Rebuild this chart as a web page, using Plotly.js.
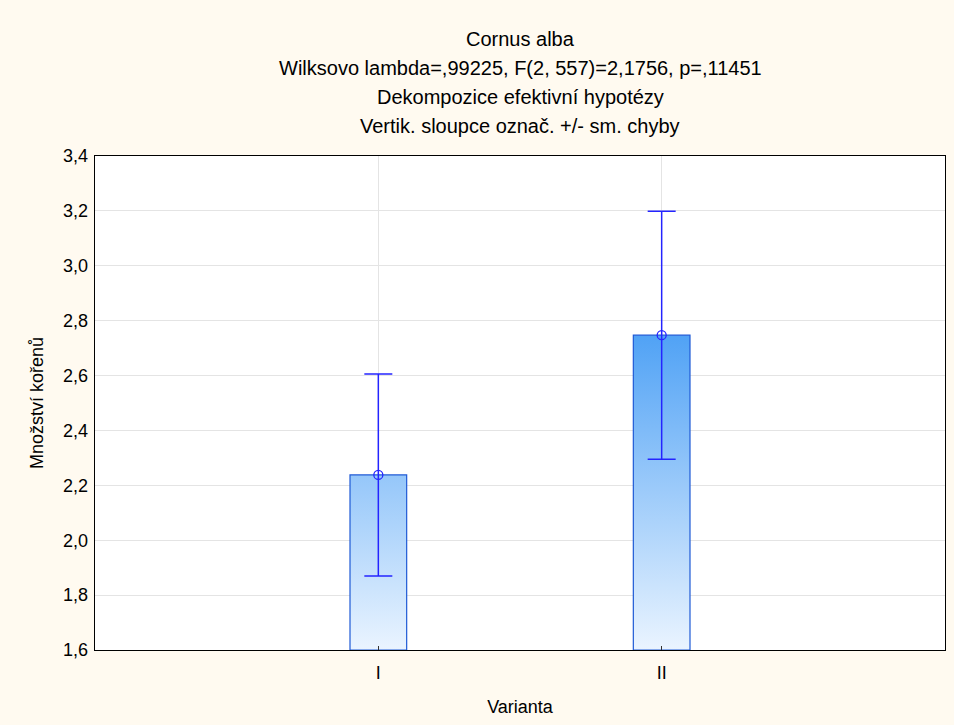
<!DOCTYPE html>
<html>
<head>
<meta charset="utf-8">
<script src="https://cdn.plot.ly/plotly-3.0.1.min.js"></script>
<style>html,body{margin:0;padding:0;background:#FFFAF0;}</style>
</head>
<body>
<div id="chart" style="width:954px;height:725px;"></div>
<script>
// Data
const categories = ['I', 'II'];
const means = [2.238, 2.747];
const stdErrors = [0.368, 0.452];
const titleLines = [
  'Cornus alba',
  'Wilksovo lambda=,99225, F(2, 557)=2,1756, p=,11451',
  'Dekompozice efektivní hypotézy',
  'Vertik. sloupce označ. +/- sm. chyby'
];
const yTickVals = [1.6, 1.8, 2.0, 2.2, 2.4, 2.6, 2.8, 3.0, 3.2, 3.4];

const barWidth = 0.2;
const base = 1.6;
const positions = categories.map((c, i) => i);

const traces = [];
// gradient-filled bars drawn as closed paths from the data
positions.forEach((p, i) => {
  const x0 = p - barWidth / 2, x1 = p + barWidth / 2;
  traces.push({
    type: 'scatter', mode: 'lines',
    x: [x0, x0, x1, x1, x0],
    y: [base, means[i], means[i], base, base],
    fill: 'toself',
    fillgradient: {
      type: 'vertical',
      colorscale: [[0, '#EAF4FF'], [1, '#50A2F5']],
      start: 1.6, stop: 2.75
    },
    line: {color: '#1F5AD6', width: 1.2},
    hoverinfo: 'skip', showlegend: false
  });
});
// means with error bars
traces.push({
  type: 'scatter', mode: 'markers',
  x: positions, y: means,
  marker: {symbol: 'circle-open', size: 9, color: '#2424FF', line: {width: 1.3, color: '#2424FF'}},
  error_y: {type: 'data', array: stdErrors, visible: true, color: '#2424FF', thickness: 1.5, width: 14},
  showlegend: false
});

const annotations = titleLines.map((t, i) => ({
  text: t, xref: 'paper', yref: 'paper', x: 0.5, y: [1.2368, 1.178, 1.119, 1.0607][i],
  xanchor: 'center', yanchor: 'middle', showarrow: false,
  font: {family: 'Liberation Sans, Arial, sans-serif', size: 20, color: '#000'}
}));

const layout = {
  width: 954, height: 725,
  margin: {l: 95, r: 9, t: 156, b: 75},
  paper_bgcolor: '#FFFAF0',
  plot_bgcolor: '#FFFFFF',
  separators: ',.',
  font: {family: 'Liberation Sans, Arial, sans-serif', size: 18, color: '#000'},
  showlegend: false,
  annotations: annotations,
  xaxis: {
    range: [-1, 2],
    tickvals: positions, ticktext: categories,
    showgrid: true, gridcolor: '#E4E4E4', gridwidth: 1,
    zeroline: false,
    showline: true, linecolor: '#000', linewidth: 1.3, mirror: true,
    ticks: 'inside', ticklen: 4, tickcolor: '#333',
    ticklabelstandoff: 6,
    title: {text: 'Varianta', font: {size: 18}, standoff: 18},
    tickfont: {size: 18}
  },
  yaxis: {
    range: [1.6, 3.4],
    tickvals: yTickVals, tickformat: '.1f',
    showgrid: true, gridcolor: '#E4E4E4', gridwidth: 1,
    zeroline: false,
    showline: true, linecolor: '#000', linewidth: 1.3, mirror: true,
    ticks: '',
    ticklabelstandoff: 2,
    title: {text: 'Množství kořenů', font: {size: 18}, standoff: 14},
    tickfont: {size: 18}
  }
};

Plotly.newPlot('chart', traces, layout, {displayModeBar: false, staticPlot: true});
</script>
</body>
</html>
